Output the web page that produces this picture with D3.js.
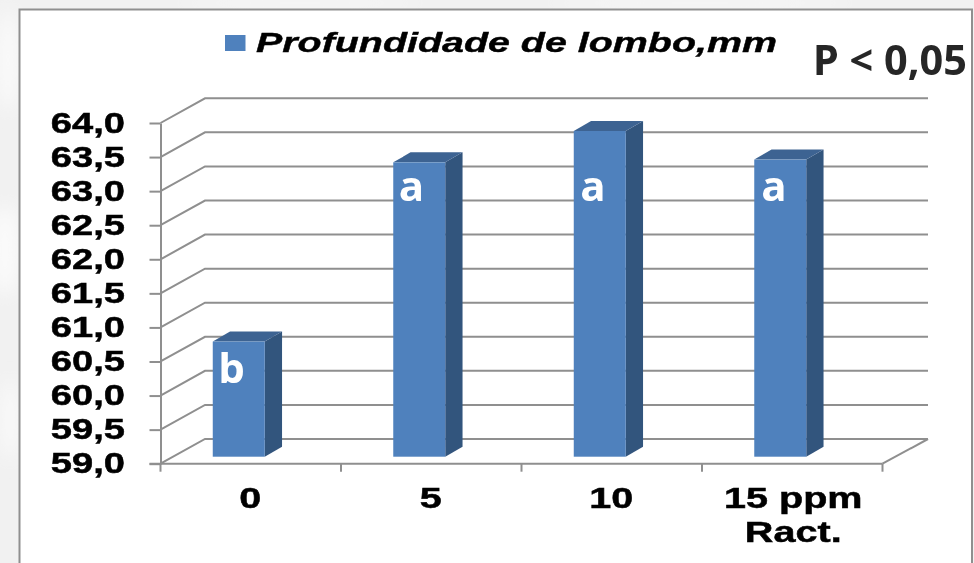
<!DOCTYPE html>
<html><head><meta charset="utf-8">
<script src="https://cdn.jsdelivr.net/npm/d3@7/dist/d3.min.js"></script>
<style>html,body{margin:0;padding:0;background:#f2f2f2;overflow:hidden}svg{display:block}</style>
</head><body><svg id="c" width="974" height="563"></svg>
<script>
const categories = ["0", "5", "10", "15 ppm|Ract."];
const values = [60.69, 63.32, 63.78, 63.36];
const letters = ["b", "a", "a", "a"];
const yTicks = [59, 59.5, 60, 60.5, 61, 61.5, 62, 62.5, 63, 63.5, 64];
const legendLabel = "Profundidade de lombo,mm";
const pLabel = "P < 0,05";

const svg = d3.select("#c");
const defs = svg.append("defs");
defs.append("filter").attr("id","soft").append("feGaussianBlur").attr("stdDeviation",0.5);
defs.append("filter").attr("id","bgblur").attr("x","-50%").attr("y","-50%").attr("width","200%").attr("height","200%")
  .append("feGaussianBlur").attr("stdDeviation",9);

// mottled slide background
const bg = svg.append("g");
bg.append("rect").attr("width",974).attr("height",563).attr("fill","#f1f1f1");
const mott = bg.append("g").attr("filter","url(#bgblur)").attr("fill","#fbfbfb");
[[8,60,10,50],[5,250,14,45],[10,420,8,40],[300,3,120,4],[700,3,150,4]].forEach(d=>
  mott.append("ellipse").attr("cx",d[0]).attr("cy",d[1]).attr("rx",d[2]).attr("ry",d[3]));

// panel
svg.append("rect").attr("x",19.5).attr("y",9.5).attr("width",952.5).attr("height",570)
  .attr("fill","#fff").attr("stroke","#8f8f8f").attr("stroke-width",2);

const root = svg.append("g").attr("filter","url(#soft)");
const FONT = "'Liberation Sans', Arial, sans-serif";
const grid = "#8f8f8f";

const depthX = 44.5, depthY = 24.7, x0 = 160.5, x1 = 882.5;
const y = d3.scaleLinear().domain([59,64]).range([463.7,123]);
const x = d3.scaleBand().domain(categories).range([x0,x1]).paddingInner(0.712).paddingOuter(0.356);

// gridlines: back wall + left wall diagonals
const gl = root.append("g").attr("fill","none").attr("stroke",grid).attr("stroke-width",2);
gl.selectAll("path.g").data(yTicks).join("path").attr("class","g")
  .attr("d",v=>`M${x0},${y(v)}L${x0+depthX},${y(v)-depthY}L${x1+depthX+1},${y(v)-depthY}`);
gl.append("path").attr("d",`M${x1},${y(59)}L${x1+depthX+1},${y(59)-depthY}`);

// axes
const fmt = v => v.toFixed(1).replace(".",",");
const yAxis = root.append("g").attr("transform",`translate(${x0},0)`)
  .call(d3.axisLeft(y).tickValues(yTicks).tickFormat(fmt).tickSize(11).tickPadding(0).tickSizeOuter(0));
yAxis.selectAll(".domain,line").attr("stroke",grid).attr("stroke-width",2);
yAxis.selectAll("text")
  .attr("font-family",FONT).attr("font-weight","bold").attr("font-size",30).attr("fill","#000")
  .attr("stroke","#000").attr("stroke-width",0.5)
  .attr("text-anchor","end").attr("dy",0).attr("x",0).attr("y",0)
  .attr("transform","translate(-35.5,9) scale(1.27,1)");

const xTicksG = root.append("g").attr("transform",`translate(0,${y(59)})`).attr("stroke",grid).attr("stroke-width",2);
xTicksG.append("line").attr("x1",x0-11).attr("x2",x1).attr("y1",0).attr("y2",0);
const step = x.step();
xTicksG.selectAll("line.t").data(d3.range(categories.length+1)).join("line").attr("class","t")
  .attr("x1",i=>x0+i*step).attr("x2",i=>x0+i*step).attr("y1",0).attr("y2",8);

const xl = root.append("g");
categories.forEach(c=>{
  c.split("|").forEach((ln,i)=>{
    xl.append("text").text(ln)
      .attr("font-family",FONT).attr("font-weight","bold").attr("font-size",30).attr("fill","#000")
      .attr("stroke","#000").attr("stroke-width",0.5)
      .attr("text-anchor","middle")
      .attr("transform",`translate(${x(c)+x.bandwidth()/2-0.5+(c.includes("|")?1.5:0)},${508+i*34}) scale(1.32,1)`);
  });
});

// bars (3-D column)
const dx = 17.3, dy = 10, barShiftX = -12, baseLift = 7;
const bars = root.selectAll("g.bar").data(values).join("g").attr("class","bar");
const bx = (d,i)=>x(categories[i])+barShiftX;
const by = d=>y(d)-baseLift;
const bb = y(59)-baseLift, bw = x.bandwidth();
bars.append("path").attr("fill","#33547d")
  .attr("d",(d,i)=>`M${bx(d,i)+bw},${by(d)}L${bx(d,i)+bw+dx},${by(d)-dy}L${bx(d,i)+bw+dx},${bb-dy}L${bx(d,i)+bw},${bb}Z`);
bars.append("path").attr("fill","#3e6492")
  .attr("d",(d,i)=>`M${bx(d,i)},${by(d)}L${bx(d,i)+dx},${by(d)-dy}L${bx(d,i)+bw+dx},${by(d)-dy}L${bx(d,i)+bw},${by(d)}Z`);
bars.append("rect").attr("fill","#4f81bd")
  .attr("x",(d,i)=>bx(d,i)).attr("y",by).attr("width",bw).attr("height",d=>bb-by(d));

// significance letters
const letterY = [383, 201, 201, 201], letterX = [231.5, 411.5, 593, 774];
root.selectAll("text.l").data(letters).join("text").attr("class","l").text(d=>d)
  .attr("x",(d,i)=>letterX[i]).attr("y",(d,i)=>letterY[i])
  .attr("text-anchor","middle").attr("fill","#fff")
  .attr("font-family","'Open Sans',sans-serif").attr("font-weight",700).attr("font-size",42);

// legend
root.append("rect").attr("x",225).attr("y",35).attr("width",20.5).attr("height",16).attr("fill","#4f81bd");
root.append("text").text(legendLabel).attr("x",256).attr("y",51.5)
  .attr("font-family",FONT).attr("font-weight","bold").attr("font-style","italic")
  .attr("font-size",28).attr("fill","#000").attr("stroke","#000").attr("stroke-width",0.4)
  .attr("textLength",521).attr("lengthAdjust","spacingAndGlyphs");

// p-value
root.append("text").text(pLabel).attr("x",813).attr("y",75)
  .attr("font-family","'Noto Sans',sans-serif").attr("font-weight",700)
  .attr("font-size",41).attr("fill","#262626")
  .attr("textLength",154).attr("lengthAdjust","spacingAndGlyphs");
</script></body></html>
